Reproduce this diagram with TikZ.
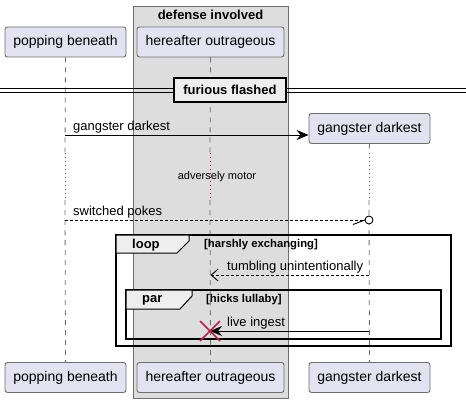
\documentclass[tikz,border=0pt]{standalone}
\usepackage{fontspec}
\setmainfont{Liberation Sans}
\usetikzlibrary{positioning, calc, arrows.meta}
\definecolor{Part}{HTML}{E2E2F0}
\definecolor{Edge}{HTML}{6E6E6E}
\definecolor{BoxGrey}{HTML}{DDDDDD}
\definecolor{TabGrey}{HTML}{EEEEEE}
\definecolor{Crimson}{HTML}{B8204A}
\tikzset{
    participant/.style={rectangle, rounded corners=2.5pt, fill=Part, draw=Edge, line width=0.9pt, minimum height=30pt, inner xsep=7pt, font=\fontsize{14}{16}\selectfont},
    lifeline/.style={draw=Edge, line width=0.8pt, dash pattern=on 5pt off 5pt},
    delayline/.style={draw=Crimson, line width=0.8pt, dash pattern=on 1pt off 3pt},
    msg/.style={line width=0.9pt, color=black},
    msglabel/.style={anchor=south west, inner sep=1pt, font=\fontsize{13}{15}\selectfont},
    framebox/.style={draw=black, line width=1.8pt},
    tab/.style={fill=TabGrey, draw=black, line width=1pt},
    tablabel/.style={anchor=west, inner sep=0pt, font=\bfseries\fontsize{13}{15}\selectfont},
    guard/.style={anchor=west, inner sep=0pt, font=\bfseries\fontsize{11.3}{13}\selectfont},
}
\begin{document}
\begin{tikzpicture}[x=1pt, y=-1pt]
        \useasboundingbox (0,0) rectangle (466,404);

        % Box
        \fill[BoxGrey] (133,6) rectangle (288,398);
        \draw[Edge, line width=0.8pt] (133,6) rectangle (288,398);
        \node[font=\bfseries\fontsize{13}{15}\selectfont] (box) at (210.5,15) {defense involved};

        % Participants
        \node[participant, minimum width=121pt] (pb) at (65.5,42) {popping beneath};
        \node[participant, minimum width=147pt] (ho) at (210.5,42) {hereafter outrageous};
        \node[participant, minimum width=121pt] (gd) at (369.5,128.5) {gangster darkest};
        \node[participant, minimum width=121pt] (pbb) at (65.5,377.5) {popping beneath};
        \node[participant, minimum width=147pt] (hob) at (210.5,377.5) {hereafter outrageous};
        \node[participant, minimum width=121pt] (gdb) at (369.5,377.5) {gangster darkest};

        % Lifelines
        \coordinate (pbd1) at (65,153);
        \coordinate (pbd2) at (65,200);
        \coordinate (hod1) at (210,153);
        \coordinate (hod2) at (210,200);
        \coordinate (gdd1) at (369,153);
        \coordinate (gdd2) at (369,200);
        \draw[lifeline] (pb.south) -- (pbd1);
        \draw[delayline] (pbd1) -- (pbd2);
        \draw[lifeline] (pbd2) -- (pbb.north);
        \draw[lifeline] (ho.south) -- (hod1);
        \draw[delayline] (hod1) -- (hod2);
        \draw[lifeline] (hod2) -- (hob.north);
        \draw[lifeline] (gd.south) -- (gdd1);
        \draw[delayline] (gdd1) -- (gdd2);
        \draw[lifeline] (gdd2) -- (gdb.north);

        % Divider
        \draw[line width=0.9pt] (0,88) -- (466,88);
        \draw[line width=0.9pt] (0,92) -- (466,92);
        \node[fill=TabGrey, draw=black, line width=1.8pt, minimum width=112pt, minimum height=24pt, font=\bfseries\fontsize{13}{15}\selectfont] (div) at (230,90) {furious flashed};

        % Messages
        \coordinate (m1) at (65,135);
        \draw[msg, -{Stealth[length=12pt, width=10pt, inset=4pt]}] (m1) -- (m1 -| gd.west);
        \node[msglabel] (m1l) at (72,134.5) {gangster darkest};

        \node[font=\fontsize{11}{13}\selectfont, inner sep=1pt] (delay) at (217,177) {adversely motor};

        \coordinate (m2) at (65,220);
        \coordinate (m2e) at (369,220);
        \draw[msg, dash pattern=on 3pt off 2pt] (m2) -- ($(m2e)+(-4,0)$);
        \draw[msg, fill=white] (m2e) circle (4);
        \draw[msg] ($(m2e)+(-4,0)$) -- ++(-12,4.5);
        \node[msglabel] (m2l) at (72,219.5) {switched pokes};

        % Loop
        \draw[framebox] (116,235) rectangle (451,346);
        \draw[tab] (116,235) -- (189,235) -- (189,241) -- (177,253) -- (116,253) -- cycle;
        \node[tablabel] (loop) at (132,245) {loop};
        \node[guard] (loopg) at (204,245) {[harshly exchanging]};

        \coordinate (m3) at (369,275);
        \draw[msg, dash pattern=on 3pt off 2pt, -{Straight Barb[length=7pt, width=12pt]}] (m3) -- (m3 -| ho.south);
        \node[msglabel] (m3l) at (226,274.5) {tumbling unintentionally};

        % Par
        \draw[framebox] (126,290) rectangle (441,339);
        \draw[tab] (126,290) -- (192,290) -- (192,296) -- (180,309) -- (126,309) -- cycle;
        \node[tablabel] (par) at (142,300) {par};
        \node[guard] (parg) at (206,300) {[hicks lullaby]};

        \coordinate (m4) at (369,331);
        \coordinate (m4e) at (210,331);
        \draw[msg, -{Stealth[length=12pt, width=10pt, inset=4pt]}] (m4) -- (m4e);
        \node[msglabel] (m4l) at (226,330.5) {live ingest};
        \draw[Crimson, line width=1.5pt] ($(m4e)+(-10,-10)$) -- ($(m4e)+(10,10)$);
        \draw[Crimson, line width=1.5pt] ($(m4e)+(-10,10)$) -- ($(m4e)+(10,-10)$);
    \end{tikzpicture}
\end{document}
